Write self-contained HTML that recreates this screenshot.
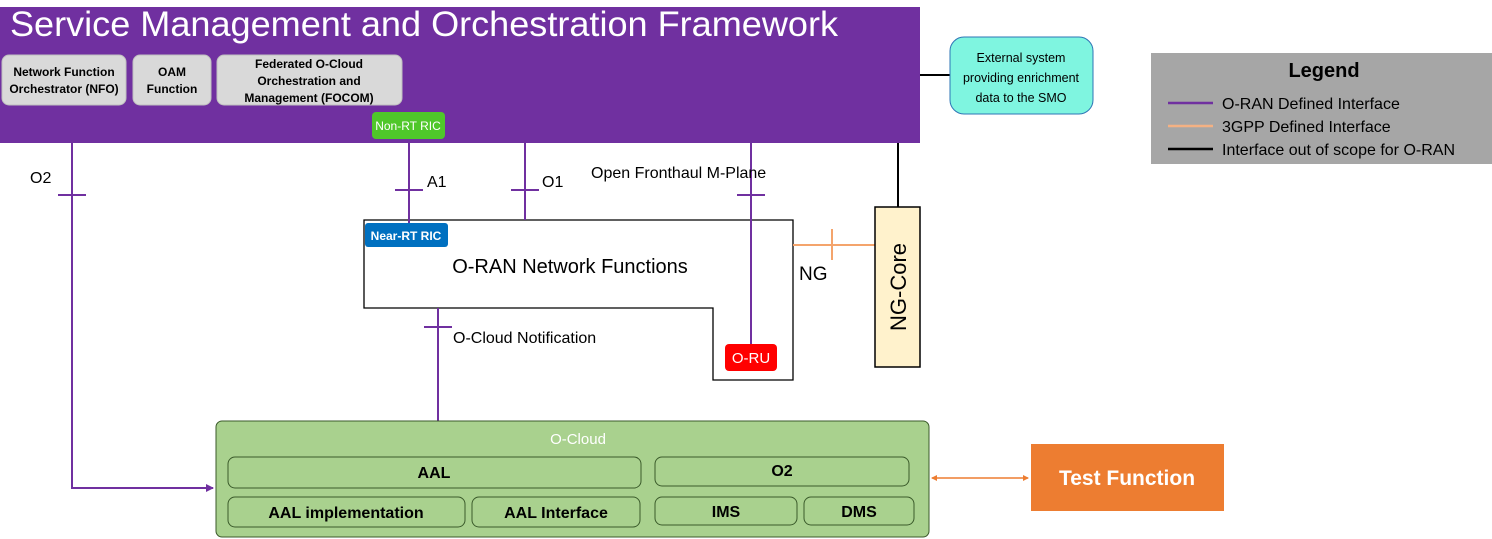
<!DOCTYPE html>
<html><head><meta charset="utf-8"><style>
html,body{margin:0;padding:0;background:#fff;}
svg{display:block;}
text{font-family:"Liberation Sans",sans-serif;}
.b{font-weight:bold;}
</style></head><body>
<svg width="1492" height="539" viewBox="0 0 1492 539" xmlns="http://www.w3.org/2000/svg">
<defs>
<marker id="ap" markerWidth="8" markerHeight="8" refX="7" refY="4" orient="auto" markerUnits="userSpaceOnUse"><path d="M0,0 L8,4 L0,8 z" fill="#7030a0"/></marker>
<marker id="ao" markerWidth="6" markerHeight="6" refX="5" refY="3" orient="auto" markerUnits="userSpaceOnUse"><path d="M0,0 L6,3 L0,6 z" fill="#ed7d31"/></marker>
<marker id="ao2" markerWidth="6" markerHeight="6" refX="1" refY="3" orient="auto" markerUnits="userSpaceOnUse"><path d="M6,0 L0,3 L6,6 z" fill="#ed7d31"/></marker>
</defs>
<rect x="0" y="7" width="920" height="136" fill="#7030a0"/>
<text x="10" y="36" font-size="35" fill="#fff" textLength="828" lengthAdjust="spacingAndGlyphs">Service Management and Orchestration Framework</text>
<rect x="2" y="55" width="124" height="50" rx="7" fill="#d9d9d9" stroke="#bfbfbf"/>
<text x="64" y="76" font-size="12" class="b" text-anchor="middle">Network Function</text>
<text x="64" y="93" font-size="12" class="b" text-anchor="middle">Orchestrator (NFO)</text>
<rect x="133" y="55" width="78" height="50" rx="7" fill="#d9d9d9" stroke="#bfbfbf"/>
<text x="172" y="76" font-size="12" class="b" text-anchor="middle">OAM</text>
<text x="172" y="93" font-size="12" class="b" text-anchor="middle">Function</text>
<rect x="217" y="55" width="185" height="50" rx="7" fill="#d9d9d9" stroke="#bfbfbf"/>
<text x="309" y="68" font-size="12" class="b" text-anchor="middle">Federated O-Cloud</text>
<text x="309" y="85" font-size="12" class="b" text-anchor="middle">Orchestration and</text>
<text x="309" y="102" font-size="12" class="b" text-anchor="middle">Management (FOCOM)</text>
<rect x="372" y="112" width="73" height="27" rx="4" fill="#4fc72a"/>
<text x="408" y="130" font-size="12" fill="#fff" text-anchor="middle">Non-RT RIC</text>
<line x1="920" y1="75" x2="950" y2="75" stroke="#000" stroke-width="2"/>
<rect x="950" y="37" width="143" height="77" rx="14" fill="#7ff5e0" stroke="#2e75b6"/>
<text x="1021" y="62" font-size="12.5" text-anchor="middle">External system</text>
<text x="1021" y="82" font-size="12.5" text-anchor="middle">providing enrichment</text>
<text x="1021" y="102" font-size="12.5" text-anchor="middle">data to the SMO</text>
<rect x="1151" y="53" width="341" height="111" fill="#a6a6a6"/>
<text x="1324" y="77" font-size="20" class="b" text-anchor="middle">Legend</text>
<line x1="1168" y1="103" x2="1213" y2="103" stroke="#7030a0" stroke-width="2.5"/>
<line x1="1168" y1="126" x2="1213" y2="126" stroke="#f4b183" stroke-width="2.5"/>
<line x1="1168" y1="149" x2="1213" y2="149" stroke="#000" stroke-width="2.5"/>
<text x="1222" y="109" font-size="16">O-RAN Defined Interface</text>
<text x="1222" y="132" font-size="16">3GPP Defined Interface</text>
<text x="1222" y="155" font-size="16">Interface out of scope for O-RAN</text>
<path d="M364,220 H793 V380 H713 V308 H364 Z" fill="#fff" stroke="#000" stroke-width="1.3"/>
<text x="570" y="273" font-size="20" text-anchor="middle">O-RAN Network Functions</text>
<g stroke="#7030a0" stroke-width="2" fill="none">
<path d="M72,143 V488 H213" marker-end="url(#ap)"/>
<line x1="58" y1="195" x2="86" y2="195"/>
<line x1="409" y1="139" x2="409" y2="223"/>
<line x1="395" y1="190" x2="423" y2="190"/>
<line x1="525" y1="143" x2="525" y2="220"/>
<line x1="511" y1="190" x2="539" y2="190"/>
<line x1="751" y1="143" x2="751" y2="345"/>
<line x1="737" y1="195" x2="765" y2="195"/>
<line x1="438" y1="308" x2="438" y2="421"/>
<line x1="424" y1="327" x2="452" y2="327"/>
</g>
<text x="30" y="183" font-size="16">O2</text>
<text x="427" y="187" font-size="16">A1</text>
<text x="542" y="187" font-size="16">O1</text>
<text x="591" y="178" font-size="16">Open Fronthaul M-Plane</text>
<text x="453" y="343" font-size="16">O-Cloud Notification</text>
<rect x="365" y="223" width="83" height="24" rx="3" fill="#0070c0"/>
<text x="406" y="240" font-size="12" class="b" fill="#fff" text-anchor="middle">Near-RT RIC</text>
<rect x="725" y="344" width="52" height="27" rx="4" fill="#ff0000"/>
<text x="751" y="363" font-size="15" fill="#fff" text-anchor="middle">O-RU</text>
<line x1="898" y1="143" x2="898" y2="207" stroke="#000" stroke-width="2"/>
<line x1="793" y1="245" x2="875" y2="245" stroke="#f4a46c" stroke-width="2"/>
<line x1="832" y1="229" x2="832" y2="260" stroke="#f4a46c" stroke-width="2"/>
<text x="799" y="280" font-size="19">NG</text>
<rect x="875" y="207" width="45" height="160" fill="#fff2cc" stroke="#000" stroke-width="1.5"/>
<text transform="translate(906,287) rotate(-90)" font-size="22" text-anchor="middle">NG-Core</text>
<rect x="216" y="421" width="713" height="116" rx="6" fill="#a9d18e" stroke="#3a5a2a"/>
<text x="578" y="444" font-size="15" fill="#fff" text-anchor="middle">O-Cloud</text>
<g fill="#a9d18e" stroke="#3a5a2a">
<rect x="228" y="457" width="413" height="31" rx="7"/>
<rect x="655" y="457" width="254" height="29" rx="7"/>
<rect x="228" y="497" width="237" height="30" rx="7"/>
<rect x="472" y="497" width="168" height="30" rx="7"/>
<rect x="655" y="497" width="142" height="28" rx="7"/>
<rect x="804" y="497" width="110" height="28" rx="7"/>
</g>
<g font-size="16" class="b" text-anchor="middle">
<text x="434" y="478">AAL</text>
<text x="782" y="476">O2</text>
<text x="346" y="518">AAL implementation</text>
<text x="556" y="518">AAL Interface</text>
<text x="726" y="517">IMS</text>
<text x="859" y="517">DMS</text>
</g>
<line x1="932" y1="478" x2="1028" y2="478" stroke="#ed7d31" stroke-width="1.5" marker-start="url(#ao2)" marker-end="url(#ao)"/>
<rect x="1031" y="444" width="193" height="67" fill="#ed7d31"/>
<text x="1127" y="485" font-size="21" class="b" fill="#fff" text-anchor="middle">Test Function</text>
</svg>
</body></html>
